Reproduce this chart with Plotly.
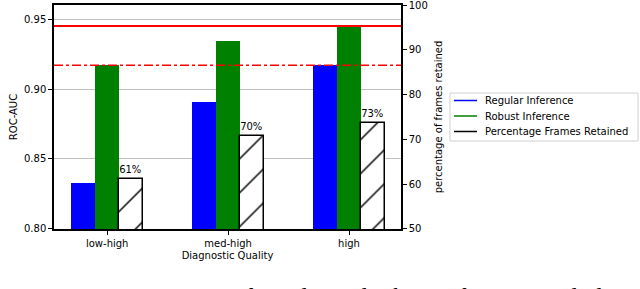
import plotly.graph_objects as go

categories = ["low-high", "med-high", "high"]
regular_auc = [0.833, 0.891, 0.917]
robust_auc = [0.917, 0.934, 0.945]
frames_retained = [61.2, 70.8, 73.7]
frames_labels = ["61%", "70%", "73%"]
left_ticks = [0.80, 0.85, 0.90, 0.95]
right_ticks = [50, 60, 70, 80, 90, 100]
legend_names = ["Regular Inference", "Robust Inference", "Percentage Frames Retained"]
legend_colors = ["#0000ff", "#008000", "black"]
caption = "ROC-AUC comparison of regular and robust inference. Including the test"

FONT = "DejaVu Sans"
W, H = 640, 289
L, R, T, B = 54, 239, 5, 60
pw, ph = W - L - R, H - T - B


def px(x):
    return (x - L) / pw


def py(y):
    return (H - B - y) / ph


fig = go.Figure()
fig.add_trace(go.Bar(x=categories, y=regular_auc, width=0.2, offset=-0.3,
                     marker=dict(color="#0000ff", line=dict(width=0)),
                     name=legend_names[0], showlegend=False, yaxis="y"))
fig.add_trace(go.Bar(x=categories, y=robust_auc, width=0.2, offset=-0.1,
                     marker=dict(color="#008000", line=dict(width=0)),
                     name=legend_names[1], showlegend=False, yaxis="y"))
fig.add_trace(go.Bar(x=categories, y=frames_retained, width=0.2, offset=0.1,
                     marker=dict(color="white", line=dict(color="black", width=1.5),
                                 pattern=dict(shape="/", size=24, solidity=0.06,
                                              fgcolor="black", bgcolor="white",
                                              fgopacity=1)),
                     text=frames_labels, textposition="outside",
                     textfont=dict(family=FONT, size=10, color="black"),
                     cliponaxis=False, name=legend_names[2], showlegend=False, yaxis="y2"))

fig.add_hline(y=max(robust_auc), line=dict(color="red", width=2), layer="above")
fig.add_hline(y=max(regular_auc), line=dict(color="red", width=1.5, dash="dashdot"), layer="above")

# manual legend (matplotlib-like box with line handles)
fig.add_shape(type="rect", xref="paper", yref="paper",
              x0=px(450), x1=px(638), y0=py(141), y1=py(93),
              line=dict(color="#d0d0d0", width=1), fillcolor="white", layer="above")
for i, (name, col) in enumerate(zip(legend_names, legend_colors)):
    yy = 100.5 + i * 15.5
    fig.add_shape(type="line", xref="paper", yref="paper",
                  x0=px(454), x1=px(477), y0=py(yy), y1=py(yy),
                  line=dict(color=col, width=1.5), layer="above")
    fig.add_annotation(text=name, xref="paper", yref="paper", x=px(483), y=py(yy),
                       xanchor="left", yanchor="middle", showarrow=False,
                       font=dict(family=FONT, size=10, color="black"))

fig.update_layout(
    width=W, height=H,
    margin=dict(l=L, r=R, t=T, b=B, autoexpand=False),
    paper_bgcolor="white", plot_bgcolor="white",
    font=dict(family=FONT, size=10, color="black"),
    bargap=0, showlegend=False,
    xaxis=dict(range=[-0.44, 2.43], showline=True, linecolor="black", linewidth=1.5,
               mirror=True, ticks="outside", ticklen=4, tickcolor="black",
               title=dict(text="Diagnostic Quality", standoff=4, font=dict(size=10)),
               showgrid=False, automargin=False),
    yaxis=dict(range=[0.7999, 0.9601], tickvals=left_ticks, tickformat=".2f",
               showline=True, linecolor="black", linewidth=1.5, mirror=True,
               ticks="outside", ticklen=4, tickcolor="black",
               showgrid=True, gridcolor="#c0c0c0", gridwidth=1,
               title=dict(text="ROC-AUC", standoff=4, font=dict(size=10)),
               zeroline=False, automargin=False, ticklabeloverflow="allow"),
    yaxis2=dict(range=[49.97, 100.03], tickvals=right_ticks, overlaying="y", side="right",
                showline=True, linecolor="black", linewidth=1.5,
                ticks="outside", ticklen=4, tickcolor="black", showgrid=False,
                title=dict(text="percentage of frames retained", standoff=8, font=dict(size=10)),
                zeroline=False, automargin=False, ticklabeloverflow="allow"),
)

fig.add_annotation(text=caption, xref="paper", yref="paper", x=px(-1), y=py(280.5),
                   xanchor="left", yanchor="top", showarrow=False,
                   font=dict(family="Liberation Serif", size=24, color="black"))

fig.write_html("out.html", config={"displayModeBar": False},
               post_script="document.body.style.margin='0';document.body.style.padding='0';"
                           "document.body.style.overflow='hidden';")
